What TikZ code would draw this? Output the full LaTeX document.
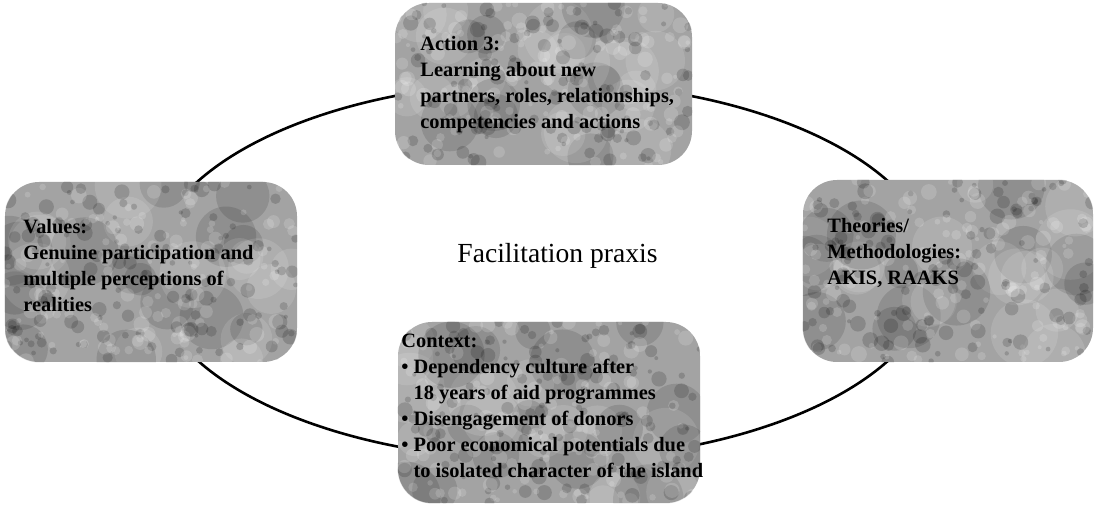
\documentclass[tikz,border=0pt]{standalone}
\usepackage{fontspec}
\setmainfont{Liberation Serif}
\usetikzlibrary{shapes.geometric}

% mottled grain laid over a panel: x0 y0 x1 y1 seed
\newcommand{\panelgrain}[5]{%
  \pgfmathsetseed{#5}%
  % broad soft patches
  \foreach \k in {1,...,30}{%
    \pgfmathsetmacro\gx{#1+(#3-#1)*rnd}%
    \pgfmathsetmacro\gy{#2+(#4-#2)*rnd}%
    \pgfmathsetmacro\gr{8+10*rnd}%
    \pgfmathtruncatemacro\gt{rnd<0.5 ? 0 : 100}%
    \fill[black!\gt!white, opacity=0.12] (\gx,\gy) circle[radius=\gr pt];
  }%
  % fine speckle
  \foreach \k in {1,...,260}{%
    \pgfmathsetmacro\gx{#1+(#3-#1)*rnd}%
    \pgfmathsetmacro\gy{#2+(#4-#2)*rnd}%
    \pgfmathsetmacro\gr{1+3*rnd}%
    \pgfmathtruncatemacro\gt{rnd<0.5 ? 0 : 100}%
    \fill[black!\gt!white, opacity=0.16] (\gx,\gy) circle[radius=\gr pt];
  }%
}

\begin{document}
\begin{tikzpicture}[x=0.5pt, y=-0.5pt,
  panel/.style={draw=none, fill=black!36, rounded corners=17pt, inner sep=0pt},
  boxtext/.style={anchor=north west, inner sep=0pt, align=left,
    font=\fontsize{10.2}{13}\selectfont\bfseries},
  ring/.style={draw=black, line width=1.3pt, ellipse, inner sep=0pt,
    minimum width=392pt, minimum height=189pt}]
\useasboundingbox (0,0) rectangle (1100,507);

% the cycle linking the four panels
\node[ring] (cycle) at (543,271) {};

% panels
\node[panel, minimum width=148.5pt, minimum height=81pt] (action) at (543.5,84) {};
\node[panel, minimum width=146pt, minimum height=90pt] (values) at (151,272) {};
\node[panel, minimum width=145pt, minimum height=91pt] (theories) at (948,271) {};
\node[panel, minimum width=151pt, minimum height=90.5pt] (context) at (549,412.5) {};

% grain on each panel
\begin{scope}
  \clip[rounded corners=17pt] (action.south west) rectangle (action.north east);
  \panelgrain{395}{3}{692}{165}{11}
\end{scope}
\begin{scope}
  \clip[rounded corners=17pt] (values.south west) rectangle (values.north east);
  \panelgrain{5}{182}{297}{362}{23}
\end{scope}
\begin{scope}
  \clip[rounded corners=17pt] (theories.south west) rectangle (theories.north east);
  \panelgrain{803}{180}{1093}{362}{37}
\end{scope}
\begin{scope}
  \clip[rounded corners=17pt] (context.south west) rectangle (context.north east);
  \panelgrain{398}{322}{700}{503}{41}
\end{scope}

% panel texts
\node[boxtext] (action-text) at (420,36) {Action 3:\\Learning about new\\partners, roles, relationships,\\competencies and actions};
\node[boxtext] (values-text) at (23,219) {Values:\\Genuine participation and\\multiple perceptions of\\realities};
\node[boxtext] (theories-text) at (827,218) {Theories/\\Methodologies:\\AKIS, RAAKS};
\node[boxtext] (context-text) at (401,334) {Context:\\\textbullet\ Dependency culture after\\\phantom{\textbullet\ }18 years of aid programmes\\\textbullet\ Disengagement of donors\\\textbullet\ Poor economical potentials due\\\phantom{\textbullet\ }to isolated character of the island};

% centre label
\node[anchor=base, inner sep=0pt, font=\fontsize{13.8}{16}\selectfont] (praxis) at (557.5,263) {Facilitation praxis};
\end{tikzpicture}
\end{document}
